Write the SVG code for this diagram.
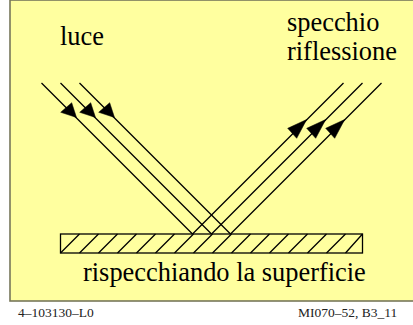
<svg xmlns="http://www.w3.org/2000/svg" width="413" height="325" viewBox="0 0 413 325">
<style>
text{font-family:"Liberation Serif","Times New Roman",serif;fill:#000}
.big{font-size:26.4px}
.small{font-size:13.5px;fill:#222}
.ray{stroke:#000;stroke-width:1.3;fill:none}
.hatch{stroke:#000;stroke-width:1.3;fill:none}
</style>
<defs>
<polygon id="head-in" points="76.500,117.500 60.700,112.300 71.700,102.700" fill="#000" stroke="#000" stroke-width="0.5"/>
<polygon id="head-out" points="306.700,119.500 287.700,128.300 296.700,138.300" fill="#000" stroke="#000" stroke-width="0.5"/>
</defs>
<rect id="background" x="10" y="0" width="404" height="301" fill="#ffff9f" stroke="#77775a" stroke-width="1.6"/>
<g id="connectors">
<path class="ray" d="M41.5 83L192.5 234M60.500 83L211.500 234M79.500 83L230.500 234"/>
<path class="ray" d="M343.500 83L192.500 234M362.500 83L211.500 234M381.500 83L230.500 234"/>
<use href="#head-in"/>
<use href="#head-in" x="19"/>
<use href="#head-in" x="38"/>
<use href="#head-out"/>
<use href="#head-out" x="19"/>
<use href="#head-out" x="38"/>
</g>
<g id="mirror">
<rect class="hatch" x="60.500" y="234" width="302" height="19"/>
<path class="hatch" d="M60.500 253L79.500 234M79.500 253L98.500 234M98.500 253L117.500 234M117.500 253L136.500 234M136.500 253L155.500 234M155.500 253L174.500 234M174.500 253L193.500 234M193.500 253L212.500 234M212.500 253L231.500 234M231.500 253L250.500 234M250.500 253L269.500 234M269.500 253L288.500 234M288.500 253L307.500 234M307.500 253L326.500 234M326.500 253L345.500 234M345.500 253L362.500 234"/>
</g>
<g id="labels">
<text class="big" x="60" y="45">luce</text>
<text class="big" x="287" y="31">specchio</text>
<text class="big" x="287" y="60">riflessione</text>
<text class="big" x="83" y="281">rispecchiando la superficie</text>
<text class="small" x="18" y="317">4–103130–L0</text>
<text class="small" x="298" y="317">MI070–52, B3_11</text>
</g>
</svg>
